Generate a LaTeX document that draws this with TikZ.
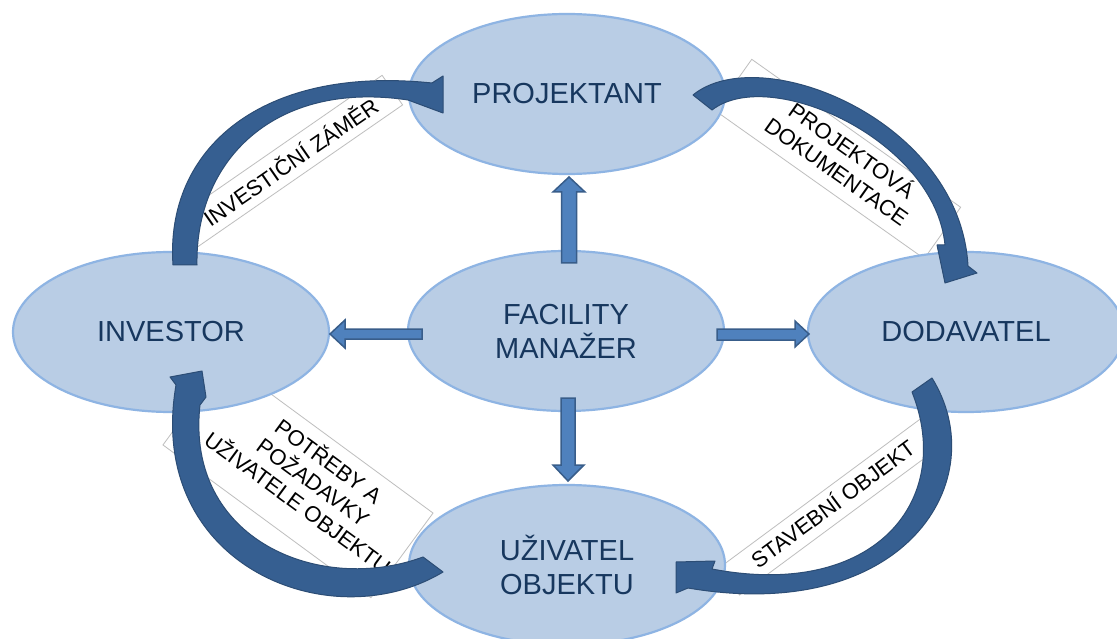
\documentclass[tikz,border=0pt]{standalone}
\usepackage{fontspec}
\setmainfont{Liberation Sans}
\usetikzlibrary{shapes.geometric}
\definecolor{ellfill}{RGB}{185,205,229}
\definecolor{elldraw}{RGB}{142,180,227}
\definecolor{ntext}{RGB}{23,55,94}
\definecolor{sfill}{RGB}{79,129,189}
\definecolor{sdraw}{RGB}{56,93,138}
\definecolor{cfill}{RGB}{54,95,145}
\definecolor{cdraw}{RGB}{44,77,117}
\definecolor{lbox}{RGB}{190,190,190}
\begin{document}
\begin{tikzpicture}[x=1pt,y=-1pt,
 ell/.style={ellipse, fill=ellfill, draw=elldraw, line width=2.2pt, minimum width=316pt, minimum height=160pt, inner sep=0pt, font=\fontsize{29}{34}\selectfont, text=ntext, align=center},
 lblbox/.style={draw=lbox, fill=white, line width=0.8pt, inner sep=0pt},
 lbltext/.style={font=\fontsize{22}{26}\selectfont, align=center, text=black, inner sep=0pt},
 sarrow/.style={fill=sfill, draw=sdraw, line width=1.5pt, line join=miter},
 carrow/.style={fill=cfill, draw=cdraw, line width=1pt, line join=round}]
\useasboundingbox (0,0) rectangle (1117,639);
\clip (0,0) rectangle (1117,639);
\fill[white] (0,0) rectangle (1117,639);
% label boxes
\node[lblbox, minimum width=249pt, minimum height=36pt, rotate=34.7] (b1) at (290,161) {};
\node[lbltext, rotate=34.7] (t1) at (290,161) {INVESTIČNÍ ZÁMĚR};
\node[lblbox, minimum width=256pt, minimum height=63pt, rotate=-35.3] (b2) at (838,159) {};
\node[lbltext, rotate=-35.3] (t2) at (845,160) {PROJEKTOVÁ\\DOKUMENTACE};
\node[lblbox, minimum width=258pt, minimum height=105pt, rotate=-36.3] (b3) at (298,479) {};
\node[lbltext, rotate=-36.3] (t3) at (314,481) {POTŘEBY A\\POŽADAVKY\\UŽIVATELE OBJEKTU};
\node[lblbox, minimum width=260pt, minimum height=34pt, rotate=36.5] (b4) at (834,504) {};
\node[lbltext, rotate=36.5] (t4) at (832,503) {STAVEBNÍ OBJEKT};
% ellipses
\node[ell] (proj) at (567,94) {PROJEKTANT};
\node[ell] (inv) at (171,332) {INVESTOR};
\node[ell] (fm) at (566,331) {FACILITY\\MANAŽER};
\node[ell] (dod) at (966,332) {DODAVATEL};
\node[ell] (uziv) at (567,565) {UŽIVATEL\\OBJEKTU};
% straight block arrows from facility manager
\path[sarrow] (561.5,263) -- (561.5,192) -- (553,192) -- (569,177) -- (585,192) -- (576.5,192) -- (576.5,263) -- cycle;
\path[sarrow] (422,329) -- (345,329) -- (345,320) -- (330,334) -- (345,348) -- (345,339) -- (422,339) -- cycle;
\path[sarrow] (717,329) -- (795,329) -- (795,321) -- (809,334) -- (795,347) -- (795,340) -- (717,340) -- cycle;
\path[sarrow] (561,398) -- (561,465) -- (553,465) -- (568,481) -- (584,465) -- (575,465) -- (575,398) -- cycle;
% curved arrows
\path[carrow] (173,265) .. controls (165,150) and (260,65) .. (432,83) -- (443,76) -- (443,113) -- (408,100) .. controls (275,80) and (195,160) .. (197,265) -- cycle;
\path[carrow] (693,95) .. controls (760,40) and (960,120) .. (968,266) -- (977,273) -- (945,283) -- (937,245) -- (945,245) .. controls (935,140) and (770,65) .. (712,110) -- cycle;
\path[carrow] (932,378) .. controls (995,480) and (905,625) .. (688,588) -- (676,593) -- (676,562) -- (715,561) -- (712,569) .. controls (875,600) and (955,500) .. (912,392) -- cycle;
\path[carrow] (443,572) .. controls (330,640) and (145,565) .. (176,385) -- (170,377) -- (202,371) -- (206,397) -- (200,405) .. controls (185,540) and (320,595) .. (423,557) -- cycle;
\end{tikzpicture}
\end{document}
